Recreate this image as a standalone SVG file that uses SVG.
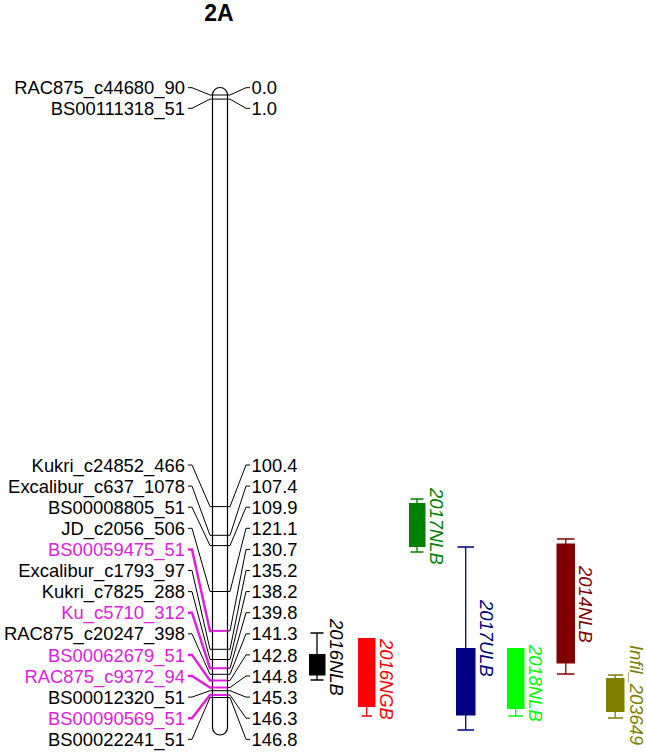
<svg xmlns="http://www.w3.org/2000/svg" width="646" height="752" viewBox="0 0 646 752">
<style>
text{font-family:"Liberation Sans",Arial,sans-serif;font-size:18.4px}
.t{font-weight:bold;font-size:23px;text-anchor:middle}
.l{text-anchor:end}
.k{fill:#000}
.m{fill:#E020E0}
.q{font-style:italic}
.c{fill:none;stroke:#000;stroke-width:1}
.cm{fill:none;stroke:#E020E0;stroke-width:2.5}
.b{stroke:#000;stroke-width:1}
.bm{stroke:#E020E0;stroke-width:2}
.w{fill:none;stroke-width:1.3}
</style>
<rect width="646" height="752" fill="#fff"/>
<text class="t" x="219" y="21">2A</text>
<g id="chromosome">
<rect x="212.5" y="87.5" width="15" height="647.5" rx="7.5" ry="7.5" fill="#fff" stroke="#000" stroke-width="1.2"/>
<line class="b" x1="212.5" x2="227.5" y1="95" y2="95"/>
<line class="b" x1="212.5" x2="227.5" y1="99.1" y2="99.1"/>
<line class="b" x1="212.5" x2="227.5" y1="506.6" y2="506.6"/>
<line class="b" x1="212.5" x2="227.5" y1="535.3" y2="535.3"/>
<line class="b" x1="212.5" x2="227.5" y1="545.6" y2="545.6"/>
<line class="b" x1="212.5" x2="227.5" y1="591.5" y2="591.5"/>
<line class="bm" x1="212.5" x2="227.5" y1="630.9" y2="630.9"/>
<line class="b" x1="212.5" x2="227.5" y1="649.3" y2="649.3"/>
<line class="b" x1="212.5" x2="227.5" y1="659.5" y2="659.5"/>
<line class="bm" x1="212.5" x2="227.5" y1="668.2" y2="668.2"/>
<line class="b" x1="212.5" x2="227.5" y1="674.3" y2="674.3"/>
<line class="bm" x1="212.5" x2="227.5" y1="680.5" y2="680.5"/>
<line class="bm" x1="212.5" x2="227.5" y1="687.5" y2="687.5"/>
<line class="b" x1="212.5" x2="227.5" y1="690.7" y2="690.7"/>
<line class="bm" x1="212.5" x2="227.5" y1="695" y2="695"/>
<line class="b" x1="212.5" x2="227.5" y1="697.5" y2="697.5"/>
</g>
<g id="connectors">
<path class="c" d="M188,87.7H192L210,95H212.5M227.5,95H230L246,87.7H250"/>
<path class="c" d="M188,108.3H192L210,99.1H212.5M227.5,99.1H230L246,108.3H250"/>
<path class="c" d="M188,465H192L210,506.6H212.5M227.5,506.6H230L246,465H250"/>
<path class="c" d="M188,486.1H192L210,535.3H212.5M227.5,535.3H230L246,486.1H250"/>
<path class="c" d="M188,507.2H192L210,545.6H212.5M227.5,545.6H230L246,507.2H250"/>
<path class="c" d="M188,528.3H192L210,591.5H212.5M227.5,591.5H230L246,528.3H250"/>
<path class="cm" d="M188,549.4H192L210,630.9H212.5"/>
<path class="c" d="M227.5,630.9H230L246,549.4H250"/>
<path class="c" d="M188,570.5H192L210,649.3H212.5M227.5,649.3H230L246,570.5H250"/>
<path class="c" d="M188,591.6H192L210,659.5H212.5M227.5,659.5H230L246,591.6H250"/>
<path class="cm" d="M188,612.7H192L210,668.2H212.5"/>
<path class="c" d="M227.5,668.2H230L246,612.7H250"/>
<path class="c" d="M188,633.8H192L210,674.3H212.5M227.5,674.3H230L246,633.8H250"/>
<path class="cm" d="M188,654.9H192L210,680.5H212.5"/>
<path class="c" d="M227.5,680.5H230L246,654.9H250"/>
<path class="cm" d="M188,676H192L210,687.5H212.5"/>
<path class="c" d="M227.5,687.5H230L246,676H250"/>
<path class="c" d="M188,697.1H192L210,690.7H212.5M227.5,690.7H230L246,697.1H250"/>
<path class="cm" d="M188,718.2H192L210,695H212.5"/>
<path class="c" d="M227.5,695H230L246,718.2H250"/>
<path class="c" d="M188,739.3H192L210,697.5H212.5M227.5,697.5H230L246,739.3H250"/>
</g>
<g id="m0"><text class="l k" x="185" y="94.3">RAC875_c44680_90</text><text x="251.5" y="94.3">0.0</text></g>
<g id="m1"><text class="l k" x="185" y="114.9">BS00111318_51</text><text x="251.5" y="114.9">1.0</text></g>
<g id="m2"><text class="l k" x="185" y="471.6">Kukri_c24852_466</text><text x="251.5" y="471.6">100.4</text></g>
<g id="m3"><text class="l k" x="185" y="492.7">Excalibur_c637_1078</text><text x="251.5" y="492.7">107.4</text></g>
<g id="m4"><text class="l k" x="185" y="513.8">BS00008805_51</text><text x="251.5" y="513.8">109.9</text></g>
<g id="m5"><text class="l k" x="185" y="534.9">JD_c2056_506</text><text x="251.5" y="534.9">121.1</text></g>
<g id="m6"><text class="l m" x="185" y="556">BS00059475_51</text><text x="251.5" y="556">130.7</text></g>
<g id="m7"><text class="l k" x="185" y="577.1">Excalibur_c1793_97</text><text x="251.5" y="577.1">135.2</text></g>
<g id="m8"><text class="l k" x="185" y="598.2">Kukri_c7825_288</text><text x="251.5" y="598.2">138.2</text></g>
<g id="m9"><text class="l m" x="185" y="619.3">Ku_c5710_312</text><text x="251.5" y="619.3">139.8</text></g>
<g id="m10"><text class="l k" x="185" y="640.4">RAC875_c20247_398</text><text x="251.5" y="640.4">141.3</text></g>
<g id="m11"><text class="l m" x="185" y="661.5">BS00062679_51</text><text x="251.5" y="661.5">142.8</text></g>
<g id="m12"><text class="l m" x="185" y="682.6">RAC875_c9372_94</text><text x="251.5" y="682.6">144.8</text></g>
<g id="m13"><text class="l k" x="185" y="703.7">BS00012320_51</text><text x="251.5" y="703.7">145.3</text></g>
<g id="m14"><text class="l m" x="185" y="724.8">BS00090569_51</text><text x="251.5" y="724.8">146.3</text></g>
<g id="m15"><text class="l k" x="185" y="745.9">BS00022241_51</text><text x="251.5" y="745.9">146.8</text></g>
<g id="q2016NLB" stroke="#000">
<path class="w" d="M317,633V654M317,675V680M310.5,633H323.5M310.5,680H323.5"/>
<rect x="309.5" y="654.5" width="15.5" height="20.5" fill="#000" stroke-width="1"/>
<text class="q" x="330" y="619" fill="#000" stroke="none" transform="rotate(90 330 619)">2016NLB</text>
</g>
<g id="q2016NGB" stroke="#FF0000">
<path class="w" d="M366.7,706.5V716M361.5,716H372"/>
<rect x="358.5" y="638.5" width="16.5" height="68" fill="#FF0000" stroke-width="1"/>
<text class="q" x="380" y="639" fill="#FF0000" stroke="none" transform="rotate(90 380 639)">2016NGB</text>
</g>
<g id="q2017NLB" stroke="#008000">
<path class="w" d="M417,499V503.5M417,546.5V552M410.5,499H423.5M410.5,552H423.5"/>
<rect x="409.5" y="503.5" width="15.5" height="43" fill="#008000" stroke-width="1"/>
<text class="q" x="430" y="488" fill="#008000" stroke="none" transform="rotate(90 430 488)">2017NLB</text>
</g>
<g id="q2017ULB" stroke="#000080">
<path class="w" d="M465.7,547V648.5M465.7,715V730M457.5,547H474M457.5,730H474"/>
<rect x="456.5" y="648.5" width="18.5" height="66.5" fill="#000080" stroke-width="1"/>
<text class="q" x="480" y="600" fill="#000080" stroke="none" transform="rotate(90 480 600)">2017ULB</text>
</g>
<g id="q2018NLB" stroke="#00FF00">
<path class="w" d="M515.7,708.5V716M508.5,716H523"/>
<rect x="507.5" y="648.5" width="16.5" height="60" fill="#00FF00" stroke-width="1"/>
<text class="q" x="529" y="645" fill="#00FF00" stroke="none" transform="rotate(90 529 645)">2018NLB</text>
</g>
<g id="q2014NLB" stroke="#800000">
<path class="w" d="M565.8,539V544M565.8,663V674M557,539H574.5M557,674H574.5"/>
<rect x="557" y="544" width="17.5" height="119" fill="#800000" stroke-width="1"/>
<text class="q" x="579" y="566" fill="#800000" stroke="none" transform="rotate(90 579 566)">2014NLB</text>
</g>
<g id="qInfil" stroke="#808000">
<path class="w" d="M615.2,675V678.5M615.2,711.5V718M608,675H623M608,718H623"/>
<rect x="606.5" y="678.5" width="17.5" height="33" fill="#808000" stroke-width="1"/>
<text class="q" x="630" y="645" fill="#808000" stroke="none" transform="rotate(90 630 645)">Infil_203649</text>
</g>
</svg>
